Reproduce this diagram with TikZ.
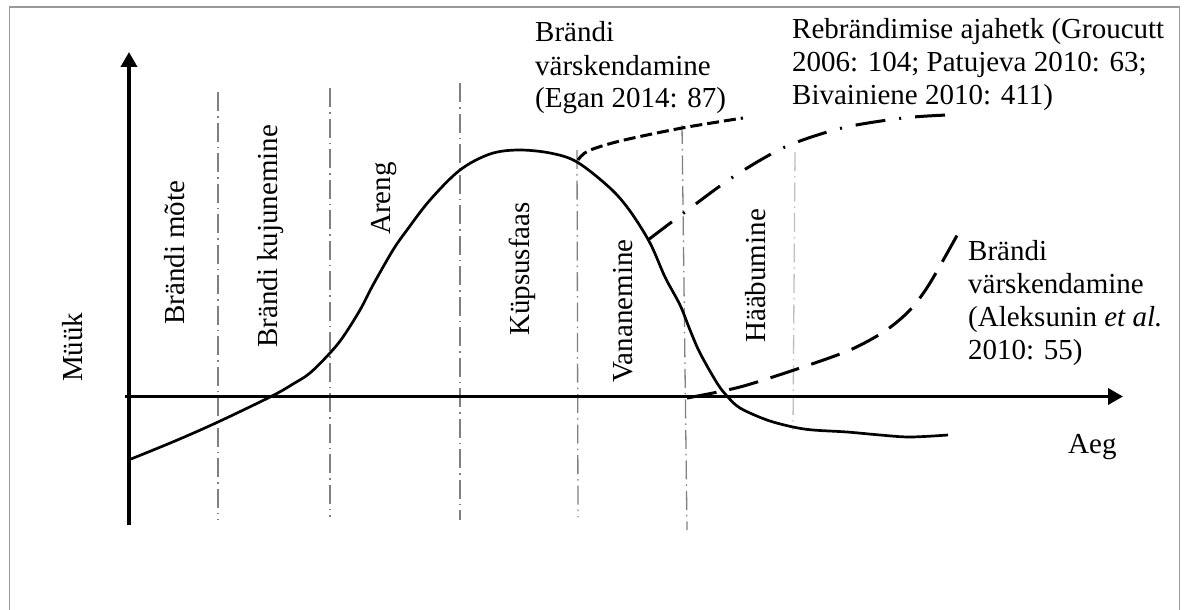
\documentclass[tikz,border=0pt]{standalone}
\usepackage{fontspec}
\setmainfont{Liberation Serif}
\usetikzlibrary{arrows.meta}
\begin{document}
\begin{tikzpicture}[x=1pt,y=-1pt,
  lbl/.style={font=\fontsize{29}{33}\selectfont, inner sep=0pt, anchor=base west},
  vlbl/.style={lbl, rotate=90},
  axisline/.style={line width=3.6pt, -{Triangle[length=15pt,width=16pt]}},
  phaseline/.style={draw=black!50, line width=1.3pt, dash pattern=on 19pt off 5pt on 1.5pt off 5pt},
  lifecurve/.style={line width=2.7pt, line join=round},
  eganline/.style={line width=3pt, dash pattern=on 12pt off 5pt},
  rebrandline/.style={line width=3pt, dash pattern=on 30pt off 14pt on 2pt off 14pt},
  alekline/.style={line width=3pt, dash pattern=on 30pt off 13pt}
]
\useasboundingbox (0,0) rectangle (1186,610);

% frame
\draw[black!40, line width=1.6pt] (9.5,615) -- (9.5,7) -- (1179.5,7) -- (1179.5,615);

% phase separators
\coordinate (p1t) at (218,92);  \coordinate (p1b) at (218,520);
\coordinate (p2t) at (330,88);  \coordinate (p2b) at (330,517);
\coordinate (p3t) at (460,83);  \coordinate (p3b) at (460,520);
\coordinate (p4t) at (577,150); \coordinate (p4b) at (578,517);
\coordinate (p5t) at (682,125); \coordinate (p5b) at (687,530);
\coordinate (p6t) at (795,152); \coordinate (p6b) at (793,430);
\draw[phaseline] (p1t) -- (p1b);
\draw[phaseline] (p2t) -- (p2b);
\draw[phaseline] (p3t) -- (p3b);
\draw[phaseline] (p4t) -- (p4b);
\draw[phaseline] (p5t) -- (p5b);
\draw[phaseline, draw=black!25] (p6t) -- (p6b);

% axes
\coordinate (yb) at (129,525); \coordinate (yt) at (129,52);
\coordinate (xl) at (125,396.5); \coordinate (xr) at (1123,396.5);
\draw[axisline] (yb) -- (yt);
\draw[axisline] (xl) -- (xr);

% life cycle curve
\draw[lifecurve] plot[smooth, tension=0.55] coordinates {
  (131,459) (175,441) (218,422) (272,396) (293,384) (310,373) (330,353)
  (343,337) (360,310) (373,285) (393,250) (407,230) (430,200) (460,170)
  (490,154) (518,150) (550,153) (577,162) (610,188) (630,211) (650,243)
  (665,277) (680,305) (690,330) (700,353) (717,383) (727,396) (740,408)
  (767,420) (793,427) (813,430) (847,432) (880,435) (910,437) (948,435)};

% refresh curves
\draw[eganline] plot[smooth] coordinates {
  (578,160) (588,151) (620,141) (682,128) (743,118)};
\draw[rebrandline] plot[smooth] coordinates {
  (648,240) (685,212) (733,177) (785,147) (842,128) (903,118) (947,115)};
\draw[alekline] plot[smooth] coordinates {
  (687,398) (740,387) (800,368) (850,350) (885,331) (910,310) (930,283) (960,230)};

% axis titles
\node[vlbl] (muuk) at (82,382) {Müük};
\node[lbl] (aeg) at (1068,453) {Aeg};

% phase names
\node[vlbl] (ph1) at (184,325) {Brändi mõte};
\node[vlbl] (ph2) at (277,348) {Brändi kujunemine};
\node[vlbl] (ph3) at (390,235) {Areng};
\node[vlbl] (ph4) at (529,336) {Küpsusfaas};
\node[vlbl] (ph5) at (632,383) {Vananemine};
\node[vlbl] (ph6) at (765,343) {Hääbumine};

% references
\node[lbl] (egan1) at (535,42) {Brändi};
\node[lbl] (egan2) at (535,75) {värskendamine};
\node[lbl] (egan3) at (535,107) {(Egan 2014: 87)};

\node[lbl] (reb1) at (792,39) {Rebrändimise ajahetk (Groucutt};
\node[lbl] (reb2) at (792,72) {2006: 104; Patujeva 2010: 63;};
\node[lbl] (reb3) at (792,104) {Bivainiene 2010: 411)};

\node[lbl] (alek1) at (968,260) {Brändi};
\node[lbl] (alek2) at (968,293) {värskendamine};
\node[lbl] (alek3) at (968,326) {(Aleksunin {\itshape et al.}};
\node[lbl] (alek4) at (968,359) {2010: 55)};
\end{tikzpicture}
\end{document}
